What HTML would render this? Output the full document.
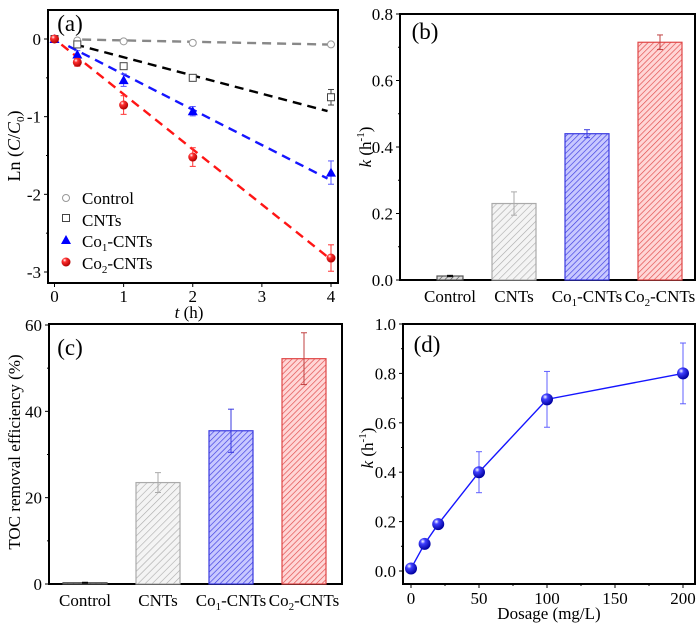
<!DOCTYPE html>
<html><head><meta charset="utf-8"><style>
body{margin:0;background:#fff}
svg{display:block;font-family:"Liberation Serif",serif}
</style></head><body>
<svg id="c" width="700" height="626" viewBox="0 0 700 626">
<defs>
<pattern id="hg" width="5" height="5" patternUnits="userSpaceOnUse" patternTransform="rotate(45)"><rect width="5" height="5" fill="#f4f4f4"/><line x1="0" y1="0" x2="0" y2="5" stroke="#aaa" stroke-width="1.2"/></pattern>
<pattern id="hb" width="4" height="4" patternUnits="userSpaceOnUse" patternTransform="rotate(45)"><rect width="4" height="4" fill="#c8c8ff"/><line x1="0" y1="0" x2="0" y2="4" stroke="#3a3ae0" stroke-width="1.3"/></pattern>
<pattern id="hr" width="4" height="4" patternUnits="userSpaceOnUse" patternTransform="rotate(45)"><rect width="4" height="4" fill="#ffd6d6"/><line x1="0" y1="0" x2="0" y2="4" stroke="#e04848" stroke-width="1.3"/></pattern>
<pattern id="hk" width="4" height="4" patternUnits="userSpaceOnUse" patternTransform="rotate(45)"><rect width="4" height="4" fill="#ddd"/><line x1="0" y1="0" x2="0" y2="4" stroke="#444" stroke-width="1.2"/></pattern>
<radialGradient id="ball" cx="0.35" cy="0.3" r="0.7"><stop offset="0" stop-color="#fff"/><stop offset="0.3" stop-color="#4040ff"/><stop offset="1" stop-color="#0000a0"/></radialGradient>
<radialGradient id="rball" cx="0.35" cy="0.3" r="0.7"><stop offset="0" stop-color="#fff"/><stop offset="0.3" stop-color="#ff3030"/><stop offset="1" stop-color="#b00000"/></radialGradient>
</defs>
</svg>
<script>
// ---- data ----
const aTime=[0,0.33,1,2,4];
const aControl=[0,-0.02,-0.03,-0.05,-0.07];
const aCNTs=[0,-0.07,-0.35,-0.5,-0.75];
const aCNTsErr=[0,0.02,0.04,0.03,0.1];
const aCo1=[0,-0.2,-0.53,-0.93,-1.72];
const aCo1Err=[0,0.05,0.08,0.06,0.15];
const aCo2=[0,-0.3,-0.85,-1.52,-2.82];
const aCo2Err=[0,0.05,0.12,0.12,0.17];
const aFitSlopes=[-0.018,-0.235,-0.455,-0.71];
const aYTicks=[0,-1,-2,-3];
const aXTicks=[0,1,2,3,4];
const bCats=["Control","CNTs","Co1-CNTs","Co2-CNTs"];
const bK=[0.012,0.23,0.44,0.715];
const bErr=[0.002,0.035,0.012,0.022];
const bYTicks=[0,0.2,0.4,0.6,0.8];
const cTOC=[0.3,23.5,35.5,52.2];
const cErr=[0.1,2.3,5,6];
const cYTicks=[0,20,40,60];
const dDose=[0,10,20,50,100,200];
const dK=[0.01,0.11,0.19,0.40,0.695,0.80];
const dErr=[0,0.015,0.015,0.083,0.113,0.123];
const dXTicks=[0,50,100,150,200];
const dYTicks=[0,0.2,0.4,0.6,0.8,1.0];

const svg=document.getElementById('c');
const NS='http://www.w3.org/2000/svg';
const TS=17;
function mk(tag,at,parent){const e=document.createElementNS(NS,tag);for(const k in at)e.setAttribute(k,at[k]);(parent||svg).appendChild(e);return e;}
function txt(x,y,s,anchor,size,parent){const t=mk('text',{x:x,y:y,'text-anchor':anchor||'middle','font-size':size||TS},parent);t.innerHTML=s;return t;}
function frame(l,t,r,b,name){const r1=mk('rect',{x:l,y:t,width:r-l,height:b-t,fill:'none',stroke:'#000','stroke-width':2});}
function lab(x,y,s,name,anchor,size){const e=txt(x,y,s,anchor,size);return e;}
const sub1='<tspan font-size="11" dy="4">1</tspan><tspan dy="-4">-CNTs</tspan>';
const sub2='<tspan font-size="11" dy="4">2</tspan><tspan dy="-4">-CNTs</tspan>';

// ---- panel a ----
const ax=t=>54.5+t*(331-54.5)/4, ay=v=>39+(-v)*(272-39)/3;
frame(48,10,338,283,'panel-a-frame');
aYTicks.forEach(v=>{mk('line',{x1:48,y1:ay(v),x2:44,y2:ay(v),stroke:'#000'});lab(41,ay(v)+6,v===0?'0':String(v),'a-y-tick','end');});
[-0.5,-1.5,-2.5].forEach(v=>mk('line',{x1:48,y1:ay(v),x2:46,y2:ay(v),stroke:'#000'}));
aXTicks.forEach(v=>{mk('line',{x1:ax(v),y1:283,x2:ax(v),y2:287,stroke:'#000'});lab(ax(v),302,String(v),'a-x-tick');});
lab(70,31,'(a)','panel-a-label','middle',23);
lab(189,318,'<tspan font-style="italic">t</tspan> (h)','a-x-axis-title','middle',17);
{const e=lab(0,0,'Ln (<tspan font-style="italic">C</tspan>/<tspan font-style="italic">C</tspan><tspan font-size="11" dy="4">0</tspan><tspan dy="-4">)</tspan>','a-y-axis-title','middle',18);e.setAttribute('transform','translate(20,146) rotate(-90)');}
const fitCols=['#888','#000','#1515ff','#ff1515'];
const fitStart=[0.4,0.3,0.2,0.1];
aFitSlopes.forEach((s,i)=>{const t0=fitStart[i],t1=i===0?4:3.95;const l=mk('line',{x1:ax(t0),y1:ay(s*t0),x2:ax(t1),y2:ay(s*t1),stroke:fitCols[i],'stroke-width':2.4,'stroke-dasharray':'9,6'});});
function errbar(x,y1,y2,col){mk('line',{x1:x,y1:y1,x2:x,y2:y2,stroke:col});mk('line',{x1:x-3,y1:y1,x2:x+3,y2:y1,stroke:col});mk('line',{x1:x-3,y1:y2,x2:x+3,y2:y2,stroke:col});}
aTime.forEach((t,i)=>{const c=mk('circle',{cx:ax(t),cy:ay(aControl[i]),r:3.5,fill:'#fff',stroke:'#999'});});
aTime.forEach((t,i)=>{errbar(ax(t),ay(aCNTs[i]+aCNTsErr[i]),ay(aCNTs[i]-aCNTsErr[i]),'#444');const r=mk('rect',{x:ax(t)-3.5,y:ay(aCNTs[i])-3.5,width:7,height:7,fill:'#fff',stroke:'#444'});});
aTime.forEach((t,i)=>{errbar(ax(t),ay(aCo1[i]+aCo1Err[i]),ay(aCo1[i]-aCo1Err[i]),'#5555ff');const x=ax(t),y=ay(aCo1[i]);const p=mk('polygon',{points:`${x},${y-5} ${x-5},${y+4} ${x+5},${y+4}`,fill:'#0000ff'});});
aTime.forEach((t,i)=>{errbar(ax(t),ay(aCo2[i]+aCo2Err[i]),ay(aCo2[i]-aCo2Err[i]),'#ff3030');const c=mk('circle',{cx:ax(t),cy:ay(aCo2[i]),r:4.5,fill:'url(#rball)'});});
// legend
mk('circle',{cx:66,cy:198,r:3.5,fill:'#fff',stroke:'#999'});lab(82,204,'Control','legend-control','start',17);
mk('rect',{x:62.5,y:214.5,width:7,height:7,fill:'#fff',stroke:'#444'});lab(82,226,'CNTs','legend-cnts','start',17);
mk('polygon',{points:'66,235 61,244 71,244',fill:'#0000ff'});lab(82,247,'Co'+sub1,'legend-co1','start',17);
mk('circle',{cx:66,cy:262,r:4.5,fill:'url(#rball)'});lab(82,269,'Co'+sub2,'legend-co2','start',17);

// ---- bar helper ----
const fills=['url(#hk)','url(#hg)','url(#hb)','url(#hr)'];
const strokes=['#555','#aaa','#3a3ae0','#e04848'];
const errCols=['#000','#aaa','#3a3ae0','#c04040'];
const catLabels=['Control','CNTs','Co'+sub1,'Co'+sub2];

// ---- panel b ----
const by=v=>280-v*(280-14)/0.8;
const bCenters=[450,514,587,660], bW=[26,44,44,44];
frame(400,14,695,280,'panel-b-frame');
bYTicks.forEach(v=>{mk('line',{x1:400,y1:by(v),x2:396,y2:by(v),stroke:'#000'});lab(393,by(v)+6,v.toFixed(1),'b-y-tick','end');});
[0.1,0.3,0.5,0.7].forEach(v=>mk('line',{x1:400,y1:by(v),x2:398,y2:by(v),stroke:'#000'}));
bK.forEach((v,i)=>{const r=mk('rect',{x:bCenters[i]-bW[i]/2,y:by(v),width:bW[i],height:280-by(v),fill:fills[i],stroke:strokes[i],'stroke-width':1.2});errbar(bCenters[i],by(v+bErr[i]),by(v-bErr[i]),errCols[i]);lab(bCenters[i],302,catLabels[i],'b-x-tick');});
lab(425,39,'(b)','panel-b-label','middle',23);
{const e=lab(0,0,'<tspan font-style="italic">k</tspan> (h<tspan font-size="11" dy="-7">-1</tspan><tspan dy="7">)</tspan>','b-y-axis-title','middle',17);e.setAttribute('transform','translate(371,147) rotate(-90)');}

// ---- panel c ----
const cy=v=>584-v*(584-325)/60;
const cCenters=[85,158,231,304];
frame(49,324,342,584,'panel-c-frame');
cYTicks.forEach(v=>{mk('line',{x1:49,y1:cy(v),x2:45,y2:cy(v),stroke:'#000'});lab(42,cy(v)+6,String(v),'c-y-tick','end');});
[10,30,50].forEach(v=>mk('line',{x1:49,y1:cy(v),x2:47,y2:cy(v),stroke:'#000'}));
cTOC.forEach((v,i)=>{const r=mk('rect',{x:cCenters[i]-22,y:cy(v),width:44,height:584-cy(v),fill:fills[i],stroke:strokes[i],'stroke-width':1.2});errbar(cCenters[i],cy(v+cErr[i]),cy(v-cErr[i]),errCols[i]);lab(cCenters[i],606,catLabels[i],'c-x-tick');});
lab(70,355,'(c)','panel-c-label','middle',23);
{const e=lab(0,0,'TOC removal efficiency (%)','c-y-axis-title','middle',17);e.setAttribute('transform','translate(20,452) rotate(-90)');}

// ---- panel d ----
const dx=v=>411+v*(683-411)/200, dy=v=>571-v*(571-324)/1.0;
frame(403,324,695,584,'panel-d-frame');
dYTicks.forEach(v=>{mk('line',{x1:403,y1:dy(v),x2:399,y2:dy(v),stroke:'#000'});lab(396,dy(v)+6,v.toFixed(1),'d-y-tick','end');});
[0.1,0.3,0.5,0.7,0.9].forEach(v=>mk('line',{x1:403,y1:dy(v),x2:401,y2:dy(v),stroke:'#000'}));
dXTicks.forEach(v=>{mk('line',{x1:dx(v),y1:584,x2:dx(v),y2:588,stroke:'#000'});lab(dx(v),604,String(v),'d-x-tick');});
[25,75,125,175].forEach(v=>mk('line',{x1:dx(v),y1:584,x2:dx(v),y2:586,stroke:'#000'}));
{const pl=mk('polyline',{points:dDose.map((d,i)=>dx(d)+','+dy(dK[i])).join(' '),fill:'none',stroke:'#1515ff','stroke-width':1.4});}
dDose.forEach((d,i)=>{if(dErr[i]>0)errbar(dx(d),dy(dK[i]+dErr[i]),dy(dK[i]-dErr[i]),'#6060ff');const c=mk('circle',{cx:dx(d),cy:dy(dK[i]),r:6,fill:'url(#ball)'});});
lab(427,352,'(d)','panel-d-label','middle',23);
lab(549,619,'Dosage (mg/L)','d-x-axis-title','middle',17);
{const e=lab(0,0,'<tspan font-style="italic">k</tspan> (h<tspan font-size="11" dy="-7">-1</tspan><tspan dy="7">)</tspan>','d-y-axis-title','middle',17);e.setAttribute('transform','translate(373,448) rotate(-90)');}
</script>
</body></html>
